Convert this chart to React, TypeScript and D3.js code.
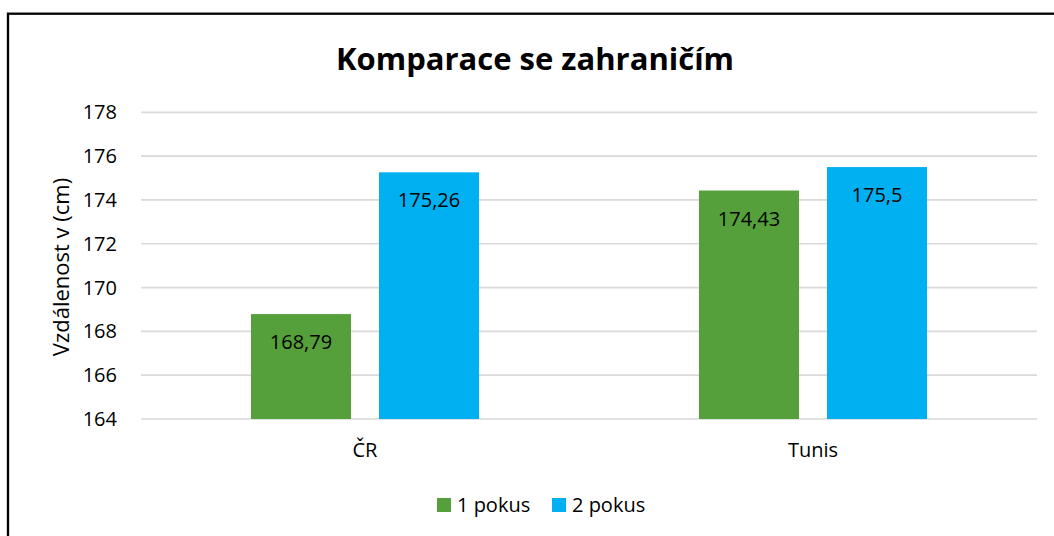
import * as d3 from "d3";
import React, { useEffect, useRef } from "react";

const categories = ["ČR", "Tunis"];
const seriesNames = ["1 pokus", "2 pokus"];
const pokus1 = [168.79, 174.43];
const pokus2 = [175.26, 175.5];
const labels1 = ["168,79", "174,43"];
const labels2 = ["175,26", "175,5"];
const yTicks = [164, 166, 168, 170, 172, 174, 176, 178];

const colors = ["#55A03A", "#00B0F0"];
const font = "'Open Sans', 'Noto Sans', sans-serif";

const Chart = () => {
  const svgRef = useRef<SVGSVGElement>(null);

  useEffect(() => {
    const svg = d3.select(svgRef.current);
    svg.selectAll("*").remove();

    const plotLeft = 141;
    const plotRight = 1037;
    const plotTop = 112.3;
    const plotBottom = 419;

    svg.append("rect").attr("width", 1054).attr("height", 536).attr("fill", "#fff");

    // outer frame (right and bottom edges fall outside the picture)
    svg
      .append("rect")
      .attr("x", 8)
      .attr("y", 13.7)
      .attr("width", 1200)
      .attr("height", 700)
      .attr("fill", "none")
      .attr("stroke", "#000")
      .attr("stroke-width", 2.3);

    const y = d3.scaleLinear().domain([164, 178]).range([plotBottom, plotTop]);

    const x0 = d3
      .scaleBand()
      .domain(categories)
      .range([plotLeft, plotRight])
      .paddingInner(0.491)
      .paddingOuter(0.2455);

    // two bars of 100px with a 28px gap inside each group
    const x1 = d3
      .scaleBand()
      .domain(seriesNames)
      .range([0, x0.bandwidth()])
      .paddingInner(0.21875);

    // gridlines
    svg
      .append("g")
      .selectAll("line")
      .data(yTicks)
      .join("line")
      .attr("x1", plotLeft)
      .attr("x2", plotRight)
      .attr("y1", (d) => y(d))
      .attr("y2", (d) => y(d))
      .attr("stroke", "#d9d9d9")
      .attr("stroke-width", 1.7);

    // tick labels
    svg
      .append("g")
      .selectAll("text")
      .data(yTicks)
      .join("text")
      .attr("x", 117)
      .attr("y", (d) => y(d))
      .attr("dy", "0.35em")
      .attr("text-anchor", "end")
      .style("font-family", font)
      .style("font-size", "20px")
      .style("fill", "#000")
      .text((d) => d);

    // category labels
    svg
      .append("g")
      .selectAll("text")
      .data(categories)
      .join("text")
      .attr("x", (d) => (x0(d) as number) + x0.bandwidth() / 2)
      .attr("y", 457)
      .attr("text-anchor", "middle")
      .style("font-family", font)
      .style("font-size", "20px")
      .style("fill", "#000")
      .text((d) => d);

    const series = [
      { name: seriesNames[0], values: pokus1, labels: labels1, color: colors[0] },
      { name: seriesNames[1], values: pokus2, labels: labels2, color: colors[1] },
    ];

    series.forEach((s) => {
      const g = svg.append("g");
      g.selectAll("rect")
        .data(categories)
        .join("rect")
        .attr("x", (d) => (x0(d) as number) + (x1(s.name) as number))
        .attr("y", (_d, i) => y(s.values[i]))
        .attr("width", x1.bandwidth())
        .attr("height", (_d, i) => plotBottom - y(s.values[i]))
        .attr("fill", s.color);

      g.selectAll("text")
        .data(categories)
        .join("text")
        .attr("x", (d) => (x0(d) as number) + (x1(s.name) as number) + x1.bandwidth() / 2)
        .attr("y", (_d, i) => y(s.values[i]) + 28)
        .attr("dy", "0.35em")
        .attr("text-anchor", "middle")
        .style("font-family", font)
        .style("font-size", "20px")
        .style("fill", "#000")
        .text((_d, i) => s.labels[i]);
    });

    // title
    svg
      .append("text")
      .attr("x", 535)
      .attr("y", 70)
      .attr("text-anchor", "middle")
      .style("font-family", font)
      .style("font-size", "31px")
      .style("font-weight", "bold")
      .style("fill", "#000")
      .text("Komparace se zahraničím");

    // y axis title
    svg
      .append("text")
      .attr("transform", "translate(61,267) rotate(-90)")
      .attr("dy", "0.35em")
      .attr("text-anchor", "middle")
      .style("font-family", font)
      .style("font-size", "22px")
      .style("fill", "#000")
      .text("Vzdálenost v (cm)");

    // legend
    const legendX = [437, 552];
    const legend = svg
      .append("g")
      .selectAll("g")
      .data(series)
      .join("g")
      .attr("transform", (_d, i) => `translate(${legendX[i]},498)`);
    legend
      .append("rect")
      .attr("width", 14)
      .attr("height", 14)
      .attr("fill", (d) => d.color);
    legend
      .append("text")
      .attr("x", 20)
      .attr("y", 7)
      .attr("dy", "0.35em")
      .style("font-family", font)
      .style("font-size", "20px")
      .style("fill", "#000")
      .text((d) => d.name);
  }, []);

  return <svg ref={svgRef} width={1054} height={536} style={{ display: "block" }}></svg>;
};

export default function App() {
  return (
    <div style={{ position: "absolute", left: 0, top: 0 }}>
      <Chart />
    </div>
  );
}
